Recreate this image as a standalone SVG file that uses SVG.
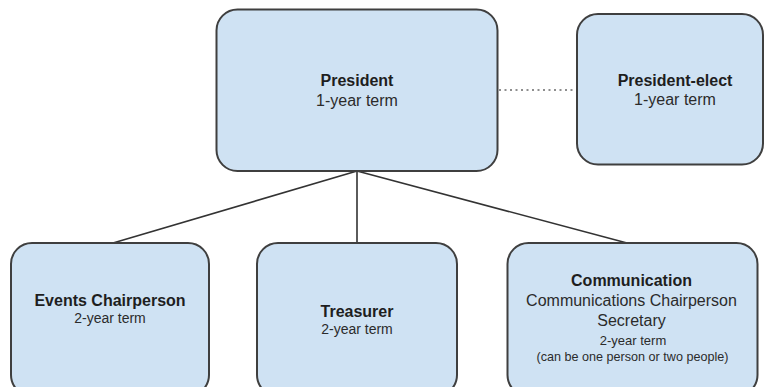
<svg xmlns="http://www.w3.org/2000/svg" width="764" height="387" viewBox="0 0 764 387">
  <style>
    .box { fill: #cfe2f3; stroke: #3f3f3f; stroke-width: 2; }
    .conn { stroke: #333333; stroke-width: 1.6; fill: none; }
    .dot { stroke: #6a6a6a; stroke-width: 1.6; fill: none; stroke-dasharray: 2 3.5; }
    text { font-family: "Liberation Sans", Arial, sans-serif; text-anchor: middle; fill: #2b2b2b; }
    .b { font-weight: bold; font-size: 16px; fill: #1e1e1e; }
    .n16 { font-size: 16px; }
    .n14 { font-size: 14px; }
    .n13 { font-size: 13px; }
    .n12 { font-size: 12.6px; }
  </style>
  <rect width="764" height="387" fill="#ffffff"/>
  <g id="connectors">
    <line class="conn" x1="357" y1="171" x2="113" y2="243"/>
    <line class="conn" x1="357" y1="171" x2="357" y2="243"/>
    <line class="conn" x1="357" y1="171" x2="627" y2="243"/>
    <line class="dot" x1="499" y1="90" x2="576" y2="90"/>
  </g>
  <g id="president">
    <rect class="box" x="216.5" y="9.5" width="281" height="161.5" rx="21"/>
    <text class="b" x="357" y="85.5">President</text>
    <text class="n16" x="357" y="105.5">1-year term</text>
  </g>
  <g id="president-elect">
    <rect class="box" x="577" y="14" width="186" height="150.5" rx="21"/>
    <text class="b" x="675" y="85.5">President-elect</text>
    <text class="n16" x="675" y="104.5">1-year term</text>
  </g>
  <g id="events">
    <rect class="box" x="11" y="243" width="198" height="153" rx="21"/>
    <text class="b" x="110" y="305.5">Events Chairperson</text>
    <text class="n14" x="110" y="322.5">2-year term</text>
  </g>
  <g id="treasurer">
    <rect class="box" x="257" y="243" width="200" height="153" rx="21"/>
    <text class="b" x="357" y="316.5">Treasurer</text>
    <text class="n14" x="357" y="334">2-year term</text>
  </g>
  <g id="communication">
    <rect class="box" x="507.5" y="243" width="250" height="153" rx="21"/>
    <text class="b" x="631.5" y="285.5">Communication</text>
    <text class="n16" x="631.5" y="306">Communications Chairperson</text>
    <text class="n16" x="631.5" y="326">Secretary</text>
    <text class="n13" x="633" y="345">2-year term</text>
    <text class="n12" x="632.5" y="361">(can be one person or two people)</text>
  </g>
</svg>
